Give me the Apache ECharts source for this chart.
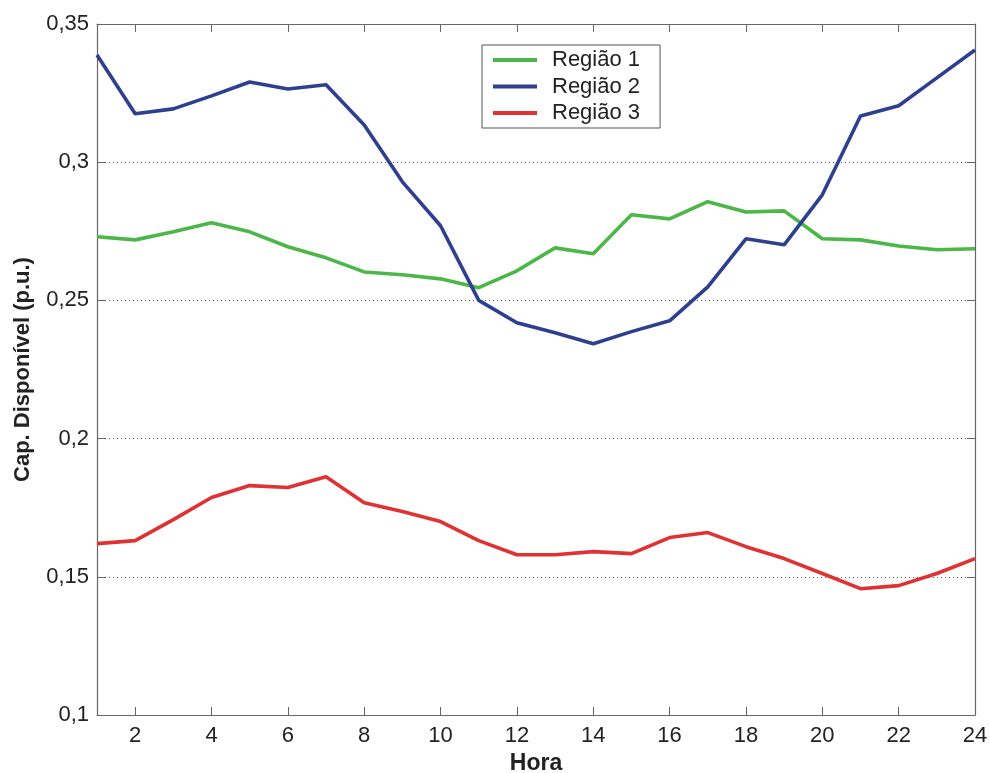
<!DOCTYPE html>
<html><head><meta charset="utf-8">
<script src="https://cdn.jsdelivr.net/npm/echarts@6/dist/echarts.min.js"></script>
<style>html,body{margin:0;padding:0;background:#fff}#c{width:990px;height:773px}</style>
</head><body><div id="c"></div>
<script>
const hours = [1,2,3,4,5,6,7,8,9,10,11,12,13,14,15,16,17,18,19,20,21,22,23,24];
const regiao1 = [0.273,0.2719,0.2748,0.2781,0.2748,0.2694,0.2654,0.2603,0.2593,0.2578,0.2546,0.2607,0.269,0.2669,0.281,0.2795,0.2857,0.282,0.2824,0.2723,0.2719,0.2697,0.2683,0.2687];
const regiao2 = [0.3388,0.3175,0.3193,0.324,0.329,0.3265,0.328,0.3135,0.2929,0.277,0.250,0.2419,0.2383,0.2343,0.2387,0.2426,0.2549,0.2723,0.2701,0.2882,0.3167,0.3204,0.3305,0.3406];
const regiao3 = [0.162,0.1631,0.1707,0.1787,0.183,0.1823,0.1862,0.1768,0.1736,0.170,0.1631,0.158,0.158,0.1591,0.1584,0.1642,0.166,0.1609,0.1566,0.1512,0.1457,0.1468,0.1512,0.1566];
const xTicks = [2,4,6,8,10,12,14,16,18,20,22,24];
const seriesNames = ['Região 1','Região 2','Região 3'];
const colors = ['#4cb648','#2e3f8f','#e03232'];

const font = 'Arial, "Liberation Sans", Helvetica, sans-serif';
const pair = v => hours.map((h,i)=>[h,v[i]]);
const chart = echarts.init(document.getElementById('c'));
const axLine = {show:true, lineStyle:{color:'#666', width:1.2}};
chart.setOption({
  animation:false,
  backgroundColor:'#fff',
  grid:{left:97, right:15, top:24, bottom:58, containLabel:false, outerBoundsMode:'none'},
  legend:{
    orient:'vertical', left:482, top:45,
    data:seriesNames,
    backgroundColor:'#fff', borderColor:'#555', borderWidth:1,
    padding:[4,20,4,11], itemGap:4.5, itemWidth:44, itemHeight:4,
    icon:'rect',
    textStyle:{fontFamily:font, fontSize:22, lineHeight:22, color:'#222', padding:[0,0,0,10]}
  },
  xAxis:[{
    type:'value', min:1, max:24, position:'bottom',
    name:'Hora', nameLocation:'middle', nameGap:36,
    nameTextStyle:{fontFamily:font, fontSize:23, fontWeight:'bold', color:'#222'},
    axisLine:axLine,
    axisTick:{show:true, inside:true, length:8, customValues:xTicks, lineStyle:{color:'#666'}},
    axisLabel:{customValues:xTicks, fontFamily:font, fontSize:22, color:'#222', margin:10},
    splitLine:{show:false}
  },{
    type:'value', min:1, max:24, position:'top',
    axisLine:axLine,
    axisTick:{show:true, inside:true, length:8, customValues:xTicks, lineStyle:{color:'#666'}},
    axisLabel:{show:false}, splitLine:{show:false}
  }],
  yAxis:[{
    type:'value', min:0.1, max:0.35, interval:0.05, position:'left',
    name:'Cap. Disponível (p.u.)', nameLocation:'middle', nameGap:63, nameRotate:90,
    nameTextStyle:{fontFamily:font, fontSize:22, fontWeight:'bold', color:'#222'},
    axisLine:axLine,
    axisTick:{show:true, inside:true, length:8, lineStyle:{color:'#666'}},
    axisLabel:{fontFamily:font, fontSize:22, color:'#222', margin:8,
      formatter:v=>(Math.round(v*100)/100).toString().replace('.',',')},
    splitLine:{show:true, lineStyle:{type:[1,3], color:'#555', width:1}}
  },{
    type:'value', min:0.1, max:0.35, interval:0.05, position:'right',
    axisLine:axLine,
    axisTick:{show:true, inside:true, length:8, lineStyle:{color:'#666'}},
    axisLabel:{show:false}, splitLine:{show:false}
  }],
  series: seriesNames.map((n,i)=>({
    name:n, type:'line', showSymbol:false, symbol:'none',
    data:pair([regiao1,regiao2,regiao3][i]),
    lineStyle:{color:colors[i], width:3.6},
    itemStyle:{color:colors[i]}, z:[3,4,3][i]
  }))
});
</script></body></html>
